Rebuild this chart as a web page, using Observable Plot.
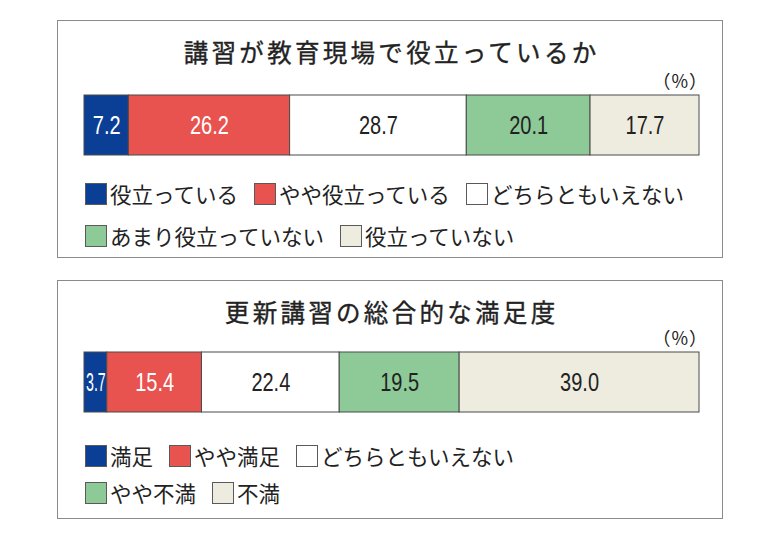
<!DOCTYPE html>
<html><head><meta charset="utf-8">
<script src="https://cdn.jsdelivr.net/npm/d3@7"></script>
<script src="https://cdn.jsdelivr.net/npm/@observablehq/plot@0.6"></script>
<style>
  html,body{margin:0;padding:0;background:#fff;}
  #root{position:relative;width:780px;height:540px;overflow:hidden;font-family:"Noto Sans CJK JP","Noto Sans",sans-serif;color:#222;}
  .panel{position:absolute;left:57px;width:666px;border:1.5px solid #8a8a8a;box-sizing:border-box;}
  .title{position:absolute;left:0;width:780px;text-align:center;font-size:24.5px;font-weight:400;-webkit-text-stroke:0.35px #222;letter-spacing:3.3px;line-height:30px;color:#222;}
  .pct{position:absolute;font-size:18px;line-height:22px;color:#222;letter-spacing:1px;}
  .row{position:absolute;left:85px;height:26px;display:flex;align-items:center;white-space:nowrap;}
  .item{display:flex;align-items:center;margin-right:16px;flex:none;}
  .sw{width:22px;height:22px;min-width:22px;flex:0 0 22px;box-sizing:border-box;border:1px solid #5a5a5a;margin-right:3px;}
  .lab{font-size:21.5px;line-height:26px;color:#222;flex:none;}
  .bar{position:absolute;}
</style>
</head><body><div id="root"></div>
<script>
const titles = ["講習が教育現場で役立っているか", "更新講習の総合的な満足度"];
const cats1 = ["役立っている", "やや役立っている", "どちらともいえない", "あまり役立っていない", "役立っていない"];
const vals1 = [7.2, 26.2, 28.7, 20.1, 17.7];
const cats2 = ["満足", "やや満足", "どちらともいえない", "やや不満", "不満"];
const vals2 = [3.7, 15.4, 22.4, 19.5, 39.0];
const colors = ["#0b3f96", "#e8524f", "#ffffff", "#8dca98", "#eeecdf"];
const lightText = [true, true, false, false, false];
const legendRows = [[0, 1, 2], [3, 4]];
const unitLabel = "（%）";

const layouts = [
  {boxTop: 20, boxH: 238, titleY: 52, pctY: 80, barTop: 94, legendY: [194, 236]},
  {boxTop: 280, boxH: 239, titleY: 312, pctY: 337, barTop: 351, legendY: [456, 493]}
];

const root = document.getElementById("root");
const numFont = "'Liberation Sans','Arimo',sans-serif";

function drawPanel(cats, vals, L, title) {
  const box = document.createElement("div");
  box.className = "panel";
  box.style.top = L.boxTop + "px";
  box.style.height = L.boxH + "px";
  root.appendChild(box);

  const t = document.createElement("div");
  t.className = "title";
  t.textContent = title;
  t.style.top = (L.titleY - 15) + "px";
  t.style.paddingLeft = "3.3px";
  t.style.boxSizing = "border-box";
  root.appendChild(t);

  const p = document.createElement("div");
  p.className = "pct";
  p.textContent = unitLabel;
  p.style.top = (L.pctY - 11) + "px";
  p.style.right = "72px";
  root.appendChild(p);

  let acc = 0;
  const data = cats.map((c, i) => {
    const x1 = acc; acc += vals[i];
    return {cat: c, value: vals[i], label: vals[i].toFixed(1), x1, x2: acc, mid: (x1 + acc) / 2, light: lightText[i]};
  });
  const total = acc;
  const W = 617, H = 62;
  const chart = Plot.plot({
    width: W, height: H,
    marginLeft: 1, marginRight: 1, marginTop: 1, marginBottom: 1,
    x: {domain: [0, total], axis: null},
    color: {domain: cats, range: colors},
    style: {background: "transparent", overflow: "visible"},
    marks: [
      Plot.barX(data, {x1: "x1", x2: "x2", fill: "cat", stroke: "#4a4a4a", strokeWidth: 1}),
      Plot.text(data.filter(d => d.light), {x: "mid", text: "label", fill: "#ffffff",
        fontSize: 25, fontFamily: numFont}),
      Plot.text(data.filter(d => !d.light), {x: "mid", text: "label", fill: "#222222",
        fontSize: 25, fontFamily: numFont})
    ]
  });
  chart.classList.add("bar");
  chart.style.left = "83px";
  chart.style.top = L.barTop + "px";
  root.appendChild(chart);

  // condense number labels (reference uses a condensed face)
  const x = chart.scale("x");
  chart.querySelectorAll("g[aria-label='text'] text").forEach(el => {
    const d = data.find(e => e.label === el.textContent);
    if (!d) return;
    const segW = x.apply(d.x2) - x.apply(d.x1);
    let len = el.getComputedTextLength() * 0.8;
    if (len > segW - 3) len = segW - 3;
    el.setAttribute("textLength", len);
    el.setAttribute("lengthAdjust", "spacingAndGlyphs");
  });

  legendRows.forEach((row, r) => {
    const div = document.createElement("div");
    div.className = "row";
    div.style.top = (L.legendY[r] - 13) + "px";
    row.forEach(i => {
      const it = document.createElement("div");
      it.className = "item";
      const sw = document.createElement("div");
      sw.className = "sw";
      sw.style.background = colors[i];
      const lab = document.createElement("span");
      lab.className = "lab";
      lab.textContent = cats[i];
      it.appendChild(sw); it.appendChild(lab);
      div.appendChild(it);
    });
    root.appendChild(div);
  });
}

drawPanel(cats1, vals1, layouts[0], titles[0]);
drawPanel(cats2, vals2, layouts[1], titles[1]);
</script>
</body></html>
